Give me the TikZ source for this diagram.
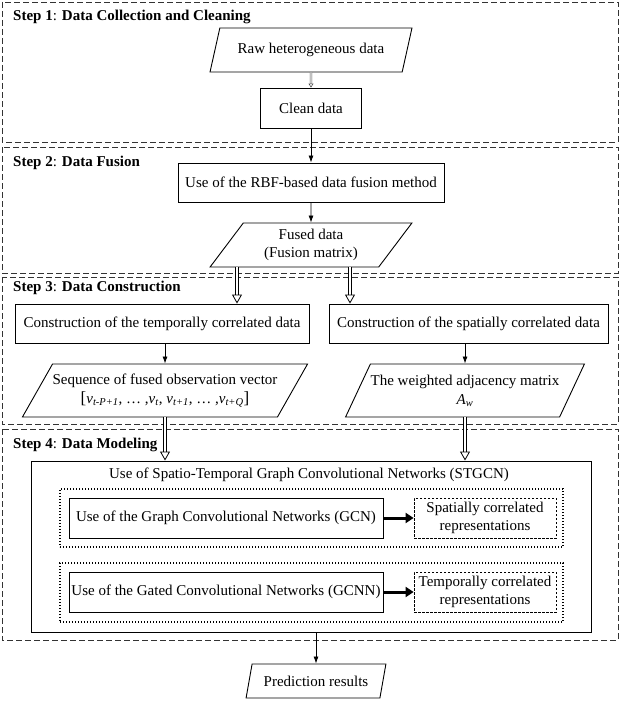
\documentclass[tikz,border=0pt]{standalone}
\usepackage{fontspec}
\setmainfont{Liberation Serif}
\usetikzlibrary{shapes.geometric,arrows.meta,calc}
\newcommand{\vsb}[1]{\textit{v}\textsubscript{\textit{#1}}}
\tikzset{
  every node/.style={font=\fontsize{15bp}{18bp}\selectfont, inner sep=0pt},
  framebox/.style={draw=black!80, line width=0.9bp, dash pattern=on 6bp off 3bp},
  steplabel/.style={anchor=west, font=\fontsize{15bp}{18bp}\selectfont},
  procbox/.style={draw, rectangle, line width=0.9bp},
  databox/.style={draw, trapezium, trapezium stretches=true, line width=0.9bp, align=center},
  dotbox/.style={draw, rectangle, line width=1.1bp, dash pattern=on 1.4bp off 1.6bp},
  dashbox/.style={draw, rectangle, line width=0.8bp, dash pattern=on 2.5bp off 1.5bp, align=center},
  arr/.style={line width=0.8bp, -{Latex[length=7bp,width=5bp]}},
  hollowarr/.style={double, double distance=2.4bp, line width=0.7bp, -{Triangle[open, length=9bp, width=10bp, line width=0.8bp]}},
  smallhollow/.style={black!70, double, double distance=1.4bp, line width=0.5bp, -{Triangle[open, length=4bp, width=5bp, line width=0.6bp]}},
  thickarr/.style={line width=3bp, -{Triangle[length=8bp, width=10bp]}}
}
\begin{document}
\begin{tikzpicture}[x=1bp,y=-1bp]
\useasboundingbox (0,0) rectangle (621,702);
\fill[white] (0,0) rectangle (621,702);

% step frames
\draw[framebox] (2,2) rectangle (618,142);
\draw[framebox] (2,147) rectangle (618,273);
\draw[framebox] (2,277) rectangle (618,424);
\draw[framebox] (2,429) rectangle (618,640);

\node[steplabel] (s1) at (13,17) {\textbf{Step 1}: \textbf{Data Collection and Cleaning}};
\node[steplabel] (s2) at (13,163) {\textbf{Step 2}: \textbf{Data Fusion}};
\node[steplabel] (s3) at (13,288) {\textbf{Step 3}: \textbf{Data Construction}};
\node[steplabel] (s4) at (13,445) {\textbf{Step 4}: \textbf{Data Modeling}};

% step 1
\node[databox, trapezium left angle=60, trapezium right angle=120, minimum width=202bp, minimum height=44bp] (raw) at (311,50) {Raw heterogeneous data};
\node[procbox, minimum width=101bp, minimum height=40bp] (clean) at (311,108) {Clean data};

% step 2
\node[procbox, minimum width=266bp, minimum height=39bp] (rbf) at (311,182.5) {Use of the RBF-based data fusion method};
\node[databox, trapezium left angle=54, trapezium right angle=126, minimum width=202bp, minimum height=44bp] (fused) at (311,245) {Fused data\\(Fusion matrix)};

% step 3
\node[procbox, minimum width=294bp, minimum height=39bp] (tbox) at (162,323.5) {Construction of the temporally correlated data};
\node[procbox, minimum width=279bp, minimum height=39bp] (sbox) at (468.5,323.5) {Construction of the spatially correlated data};
\node[databox, trapezium left angle=48, trapezium right angle=132, minimum width=283bp, minimum height=53bp] (seq) at (165,390.5)
  {Sequence of fused observation vector\\[1bp]{\fontsize{17bp}{18bp}\selectfont[}\vsb{t-P+1}, \dots\ ,\vsb{t}, \vsb{t+1}, \dots\ ,\vsb{t+Q}{\fontsize{17bp}{18bp}\selectfont]}};
\node[databox, trapezium left angle=52, trapezium right angle=128, minimum width=239bp, minimum height=53bp] (wadj) at (465,390.5)
  {The weighted adjacency matrix\\[1bp]\textit{A}\textsubscript{\textit{w}}};

% step 4
\node[draw, rectangle, line width=1bp, minimum width=559bp, minimum height=171bp] (stgcn) at (311.5,546.5) {};
\node (title) at (309,475) {Use of Spatio-Temporal Graph Convolutional Networks (STGCN)};
\node[dotbox, minimum width=503bp, minimum height=58bp] (dot1) at (311.5,518) {};
\node[dotbox, minimum width=503bp, minimum height=59bp] (dot2) at (311.5,592.5) {};
\node[procbox, minimum width=314bp, minimum height=40bp] (gcn) at (226,518) {Use of the Graph Convolutional Networks (GCN)};
\node[dashbox, minimum width=142bp, minimum height=40bp] (spat) at (485,518) {Spatially correlated\\representations};
\node[procbox, minimum width=314bp, minimum height=40bp] (gcnn) at (226,592) {Use of the Gated Convolutional Networks (GCNN)};
\node[dashbox, minimum width=142bp, minimum height=40bp] (temp) at (485,592) {Temporally correlated\\representations};

\node[databox, trapezium left angle=65, trapezium right angle=115, minimum width=140bp, minimum height=34bp] (pred) at (316,681) {Prediction results};

% connectors
\draw[smallhollow] (raw.south) -- (clean.north);
\draw[arr] (clean.south) -- (rbf.north);
\draw[arr] (rbf.south) -- (fused.north);
\draw[hollowarr] (fused.south -| 237,0) -- (tbox.north -| 237,0);
\draw[hollowarr] (fused.south -| 350,0) -- (sbox.north -| 350,0);
\draw[arr] (tbox.south -| seq.south) -- (seq.north);
\draw[arr] (sbox.south -| wadj.south) -- (wadj.north);
\draw[hollowarr] (seq.south) -- (seq.south |- stgcn.north);
\draw[hollowarr] (wadj.south) -- (wadj.south |- stgcn.north);
\draw[thickarr] (gcn.east) -- (spat.west);
\draw[thickarr] (gcnn.east) -- (temp.west);
\draw[arr] (pred.north |- stgcn.south) -- (pred.north);
\end{tikzpicture}
\end{document}
